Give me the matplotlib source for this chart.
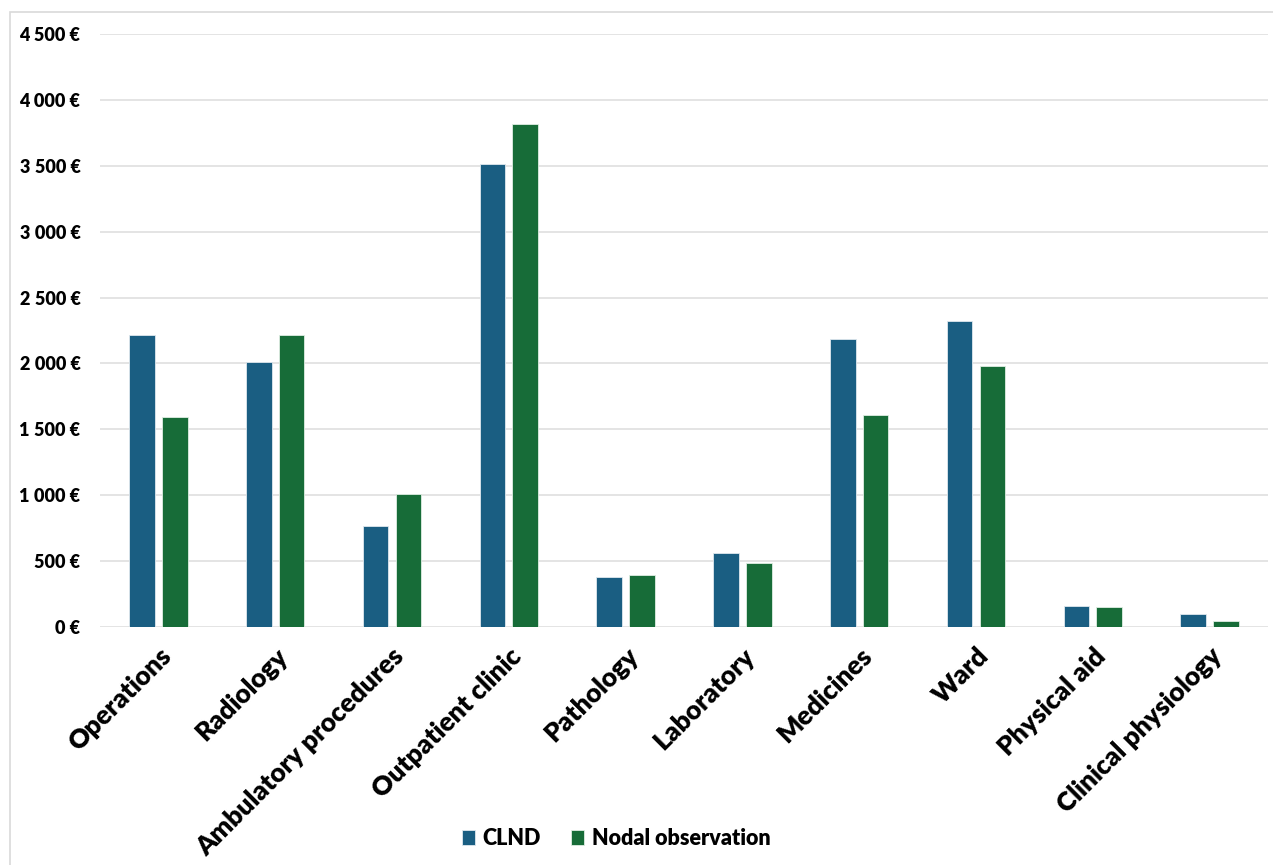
import matplotlib.pyplot as plt
from matplotlib.patches import Rectangle
import numpy as np

# Costs per patient (EUR)
categories = ['Operations', 'Radiology', 'Ambulatory procedures', 'Outpatient clinic',
              'Pathology', 'Laboratory', 'Medicines', 'Ward', 'Physical aid',
              'Clinical physiology']
clnd = [2214, 2009, 767, 3513, 377, 559, 2182, 2319, 157, 96]
nodal = [1591, 2219, 1006, 3818, 392, 485, 1606, 1982, 152, 48]
series_names = ['CLND', 'Nodal observation']

plt.rcParams['font.family'] = ['Lato', 'DejaVu Sans']
plt.rcParams['font.weight'] = 'heavy'

blue = '#1a5e82'
green = '#176c38'

fig = plt.figure(figsize=(12.73, 8.65), dpi=100)
ax = fig.add_axes([100 / 1273, 1 - 627 / 865, 1168 / 1273, (627 - 34) / 865])

# light frame around the chart area
fig.patches.append(Rectangle((10 / 1273, -0.1), 1.2, 1 - 12 / 865 + 0.1,
                             transform=fig.transFigure, fill=False,
                             edgecolor='#d9d9d9', linewidth=1.2))

x = np.arange(len(categories))
w = 0.22
ax.bar(x - 0.14, clnd, w, color=blue, edgecolor='#dfe8ee', linewidth=0.6,
       label=series_names[0], zorder=3)
ax.bar(x + 0.14, nodal, w, color=green, edgecolor='#dfeee3', linewidth=0.6,
       label=series_names[1], zorder=3)

ax.set_xlim(-0.5, len(categories) - 0.5)
ax.set_ylim(0, 4500)
ax.set_yticks(np.arange(0, 4501, 500))
ax.set_yticklabels([f'{v:,}'.replace(',', '\u202f') + ' €' for v in range(0, 4501, 500)],
                   fontsize=13, fontweight='heavy')
ax.grid(axis='y', color='#dcdcdc', linewidth=1.1, zorder=0)
ax.set_axisbelow(True)
for s in ax.spines.values():
    s.set_visible(False)
ax.tick_params(axis='y', length=0, pad=14)
ax.tick_params(axis='x', length=0, pad=12)

ax.set_xticks(x)
ax.set_xticklabels(categories, rotation=45, ha='right', rotation_mode='anchor',
                   fontsize=19, fontweight='heavy')

fig.legend(loc='center', bbox_to_anchor=(0.484, 0.031), ncol=2, frameon=False,
           prop={'size': 15.5, 'weight': 'heavy'}, handlelength=0.6, handleheight=0.7,
           columnspacing=1.4, handletextpad=0.35)

fig.savefig('out.png', dpi=100)
